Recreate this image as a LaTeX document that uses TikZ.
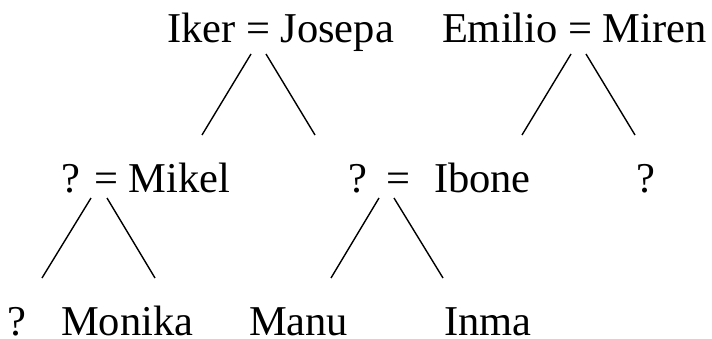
\documentclass[tikz,border=0pt]{standalone}
\usepackage{fontspec}
\setmainfont{Liberation Serif}
\begin{document}
\begin{tikzpicture}[x=1pt,y=1pt,
  lbl/.style={anchor=base west,inner sep=0pt,outer sep=0pt,font=\fontsize{42.5}{50}\selectfont},
  link/.style={line width=1.4pt,line cap=butt}]
\useasboundingbox (0,0) rectangle (712,338);
% row 1
\node[lbl] (ij) at (167,295) {Iker = Josepa};
\node[lbl] (em) at (442,295) {Emilio = Miren};
% row 2
\node[lbl] (mk) at (61,146) {? = Mikel};
\node[lbl] (qa) at (348,146) {?};
\node[lbl] (eqb) at (386,146) {=};
\node[lbl] (ib) at (434,146) {Ibone};
\node[lbl] (qb) at (636,146) {?};
% row 3
\node[lbl] (qc) at (8,2.5) {?};
\node[lbl] (mo) at (61,2.5) {Monika};
\node[lbl] (ma) at (249,2.5) {Manu};
\node[lbl] (in) at (444,2.5) {Inma};
% line ends
\coordinate (a1) at (251,284); \coordinate (a2) at (202,203);
\coordinate (b1) at (266,284); \coordinate (b2) at (315,203);
\coordinate (c1) at (571,284); \coordinate (c2) at (522,203);
\coordinate (d1) at (586,284); \coordinate (d2) at (635,203);
\coordinate (e1) at (91,140);  \coordinate (e2) at (42,60);
\coordinate (f1) at (107,140); \coordinate (f2) at (155,60);
\coordinate (g1) at (379,140); \coordinate (g2) at (331,60);
\coordinate (h1) at (394,140); \coordinate (h2) at (443,60);
\draw[link] (a1) -- (a2);
\draw[link] (b1) -- (b2);
\draw[link] (c1) -- (c2);
\draw[link] (d1) -- (d2);
\draw[link] (e1) -- (e2);
\draw[link] (f1) -- (f2);
\draw[link] (g1) -- (g2);
\draw[link] (h1) -- (h2);
\end{tikzpicture}
\end{document}
